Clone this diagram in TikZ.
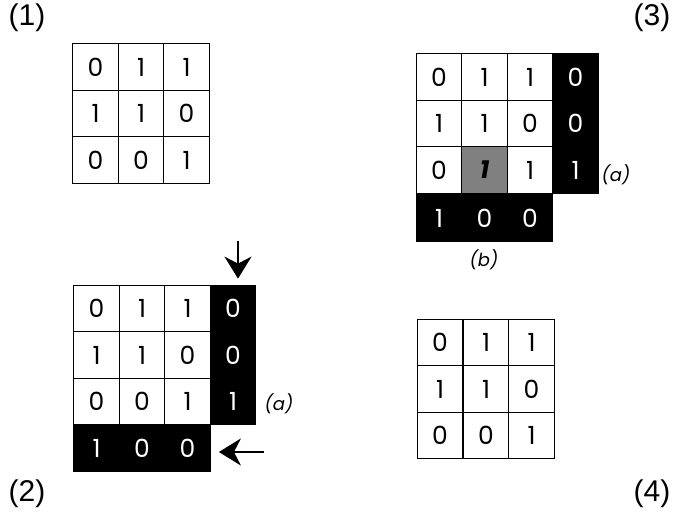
\documentclass[tikz,border=0pt]{standalone}
\usepackage{fontspec}
\setmainfont{Poppins}
\newfontfamily\tagfont{Liberation Sans}
\usetikzlibrary{arrows.meta}
\tikzset{
  cell/.style={draw=black, line width=1.3pt, minimum width=45.5pt, minimum height=46.5pt, inner sep=0pt, font=\fontsize{25}{25}\selectfont},
  blackcell/.style={cell, fill=black, text=white},
  graycell/.style={cell, fill=black!50, font=\fontsize{25}{25}\selectfont\bfseries\itshape},
  tag/.style={font=\tagfont\fontsize{30}{30}\selectfont},
  note/.style={font=\fontsize{18}{18}\selectfont\itshape},
  pointer/.style={line width=2.2pt, -{Stealth[length=22pt,width=27pt,inset=7pt]}}
}

\begin{document}
\begin{tikzpicture}[x=1pt,y=-1pt]
\useasboundingbox (0,0) rectangle (681,515);
% step labels
\node[tag] (t1) at (27,18) {(1)};
\node[tag] (t2) at (27,494) {(2)};
\node[tag] (t3) at (652,18) {(3)};
\node[tag] (t4) at (652,494) {(4)};
% (1) original grid
\node[cell] (p11) at (95.5,67) {0};
\node[cell] (p12) at (141,67) {1};
\node[cell] (p13) at (186.5,67) {1};
\node[cell] (p21) at (95.5,113.5) {1};
\node[cell] (p22) at (141,113.5) {1};
\node[cell] (p23) at (186.5,113.5) {0};
\node[cell] (p31) at (95.5,160) {0};
\node[cell] (p32) at (141,160) {0};
\node[cell] (p33) at (186.5,160) {1};
% (2) grid with added column and row
\node[cell] (q11) at (96.5,308.5) {0};
\node[cell] (q12) at (142,308.5) {1};
\node[cell] (q13) at (187.5,308.5) {1};
\node[cell] (q21) at (96.5,355) {1};
\node[cell] (q22) at (142,355) {1};
\node[cell] (q23) at (187.5,355) {0};
\node[cell] (q31) at (96.5,401.5) {0};
\node[cell] (q32) at (142,401.5) {0};
\node[cell] (q33) at (187.5,401.5) {1};
\node[blackcell] (q14) at (233,308.5) {0};
\node[blackcell] (q24) at (233,355) {0};
\node[blackcell] (q34) at (233,401.5) {1};
\node[blackcell] (q41) at (96.5,448.5) {1};
\node[blackcell] (q42) at (142,448.5) {0};
\node[blackcell] (q43) at (187.5,448.5) {0};
\node[note] (qa) at (279,404) {(a)};
\coordinate (qdown) at (238,241);
\coordinate (qleft) at (264,452);
\draw[pointer, shorten >=6pt] (qdown) -- (qdown |- q14.north);
\draw[pointer, shorten >=8pt] (qleft) -- (qleft -| q43.east);
% (3) grid with marked cell
\node[cell] (r11) at (439,77) {0};
\node[cell] (r12) at (484.5,77) {1};
\node[cell] (r13) at (530,77) {1};
\node[cell] (r21) at (439,123.5) {1};
\node[cell] (r22) at (484.5,123.5) {1};
\node[cell] (r23) at (530,123.5) {0};
\node[cell] (r31) at (439,170) {0};
\node[graycell] (r32) at (484.5,170) {1};
\node[cell] (r33) at (530,170) {1};
\node[blackcell] (r14) at (575.5,77) {0};
\node[blackcell] (r24) at (575.5,123.5) {0};
\node[blackcell] (r34) at (575.5,170) {1};
\node[blackcell] (r41) at (439,218) {1};
\node[blackcell] (r42) at (484.5,218) {0};
\node[blackcell] (r43) at (530,218) {0};
\node[note] (ra) at (616,175) {(a)};
\node[note] (rb) at (484,260) {(b)};
% (4) result grid
\node[cell] (s11) at (440,342.5) {0};
\node[cell] (s12) at (486,342.5) {1};
\node[cell] (s13) at (531.5,342.5) {1};
\node[cell] (s21) at (440,389) {1};
\node[cell] (s22) at (486,389) {1};
\node[cell] (s23) at (531.5,389) {0};
\node[cell] (s31) at (440,435.5) {0};
\node[cell] (s32) at (486,435.5) {0};
\node[cell] (s33) at (531.5,435.5) {1};
\end{tikzpicture}
\end{document}
